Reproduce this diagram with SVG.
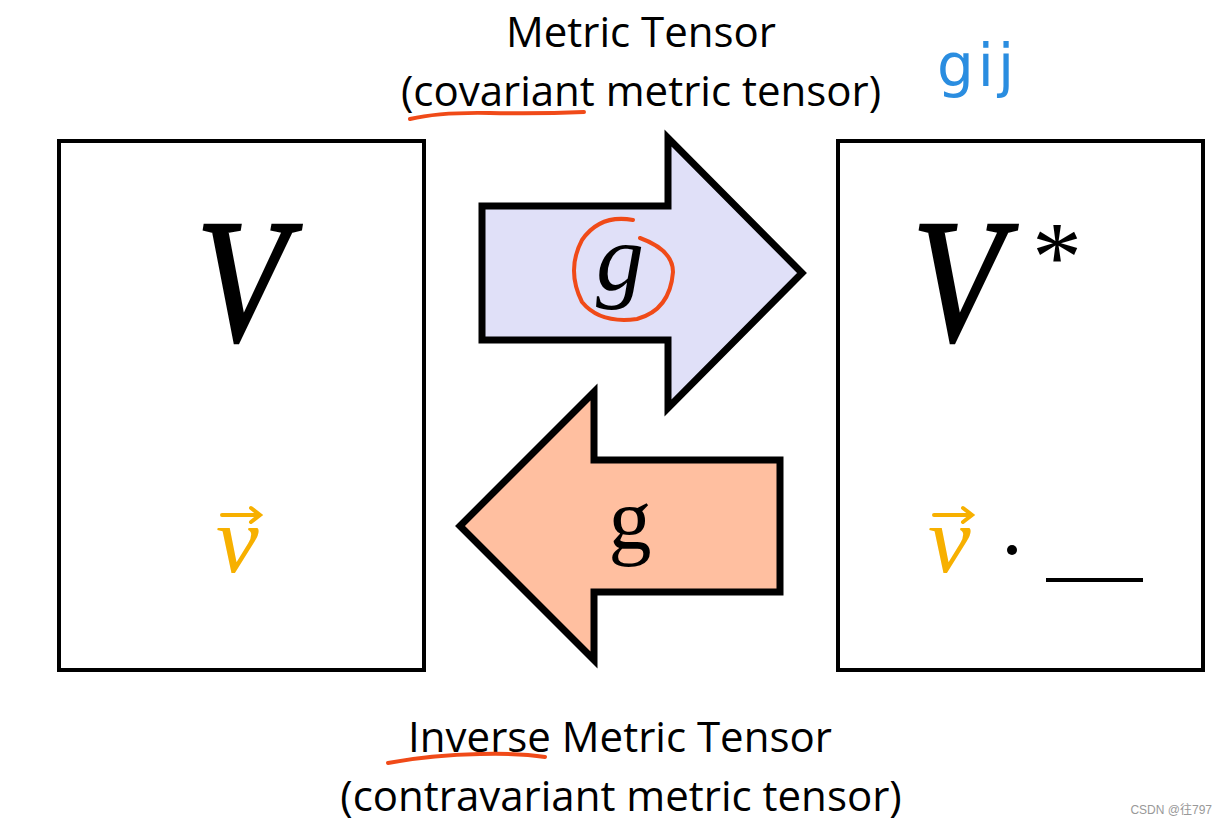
<svg xmlns="http://www.w3.org/2000/svg" width="1229" height="826" viewBox="0 0 1229 826">
<style>
.box{fill:#fff;stroke:#000;stroke-width:4}
.arr{stroke:#000;stroke-width:7;stroke-linejoin:miter}
.lbl{font-family:"Open Sans","Noto Sans",sans-serif;font-size:42px;fill:#000;text-anchor:middle}
.big{font-family:"Liberation Serif","DejaVu Serif",serif;font-style:italic;font-size:176px;fill:#000;stroke:#000;stroke-width:2.5}
.vec{font-family:"Liberation Serif","DejaVu Serif",serif;font-style:italic;font-size:96px;fill:#f7b000}
.ink{fill:none;stroke:#f04a18;stroke-width:4;stroke-linecap:round}
</style>
<rect width="1229" height="826" fill="#fff"/>
<g id="labels">
<text class="lbl" x="641" y="47">Metric Tensor</text>
<text class="lbl" x="641" y="106">(covariant metric tensor)</text>
<text class="lbl" x="620" y="752">Inverse Metric Tensor</text>
<text class="lbl" x="621" y="811">(contravariant metric tensor)</text>
<path class="ink" d="M410,119 Q440,112 490,113 Q540,114 584,112"/>
<path class="ink" d="M388,763 Q430,755 480,754 Q520,753 545,757"/>
<text x="937" y="86" font-family="DejaVu Sans,sans-serif" font-size="58" fill="#2a8de0" letter-spacing="4">gij</text>
</g>
<g id="V">
<rect class="box" x="59" y="141" width="365" height="529"/>
<text class="big" x="0" y="340" transform="translate(196,0) scale(0.85,1)">V</text>
<text class="vec" x="216" y="572">v</text>
<path d="M222,515 H259 M251,508 L260,515 L251,522" fill="none" stroke="#f7b000" stroke-width="4" stroke-linecap="round"/>
</g>
<g id="Vstar">
<rect class="box" x="838" y="141" width="365" height="529"/>
<text class="big" x="0" y="340" transform="translate(912,0) scale(0.85,1)">V</text>
<text x="1032" y="290" font-family="Liberation Serif,serif" font-size="100" fill="#000">*</text>
<text class="vec" x="928" y="572">v</text>
<path d="M934,515 H971 M963,508 L972,515 L963,522" fill="none" stroke="#f7b000" stroke-width="4" stroke-linecap="round"/>
<circle cx="1012" cy="550" r="5" fill="#000"/>
<line x1="1046" y1="580" x2="1143" y2="580" stroke="#000" stroke-width="4"/>
</g>
<g id="connectors">
<g id="metric">
<path class="arr" fill="#e0e0f8" d="M482,206 H668 V138 L802,273 L668,408 V340 H482 Z"/>
<text x="620" y="290" font-family="Liberation Serif,serif" font-style="italic" font-size="96" text-anchor="middle" fill="#000">g</text>
<path class="ink" d="M633,220 Q600,214 582,240 Q566,270 582,302 Q600,324 637,319 Q670,310 673,272 Q673,250 640,238"/>
</g>
<g id="inverse">
<path class="arr" fill="#ffbfa0" d="M780,460 H594 V392 L460,526 L594,660 V592 H780 Z"/>
<text x="630" y="548" font-family="Liberation Serif,serif" font-size="86" text-anchor="middle" fill="#000">g</text>
</g>
</g>
<text x="1212" y="814" font-family="Liberation Sans,Noto Sans CJK SC,sans-serif" font-size="12" fill="#999" text-anchor="end">CSDN @往797</text>
</svg>
